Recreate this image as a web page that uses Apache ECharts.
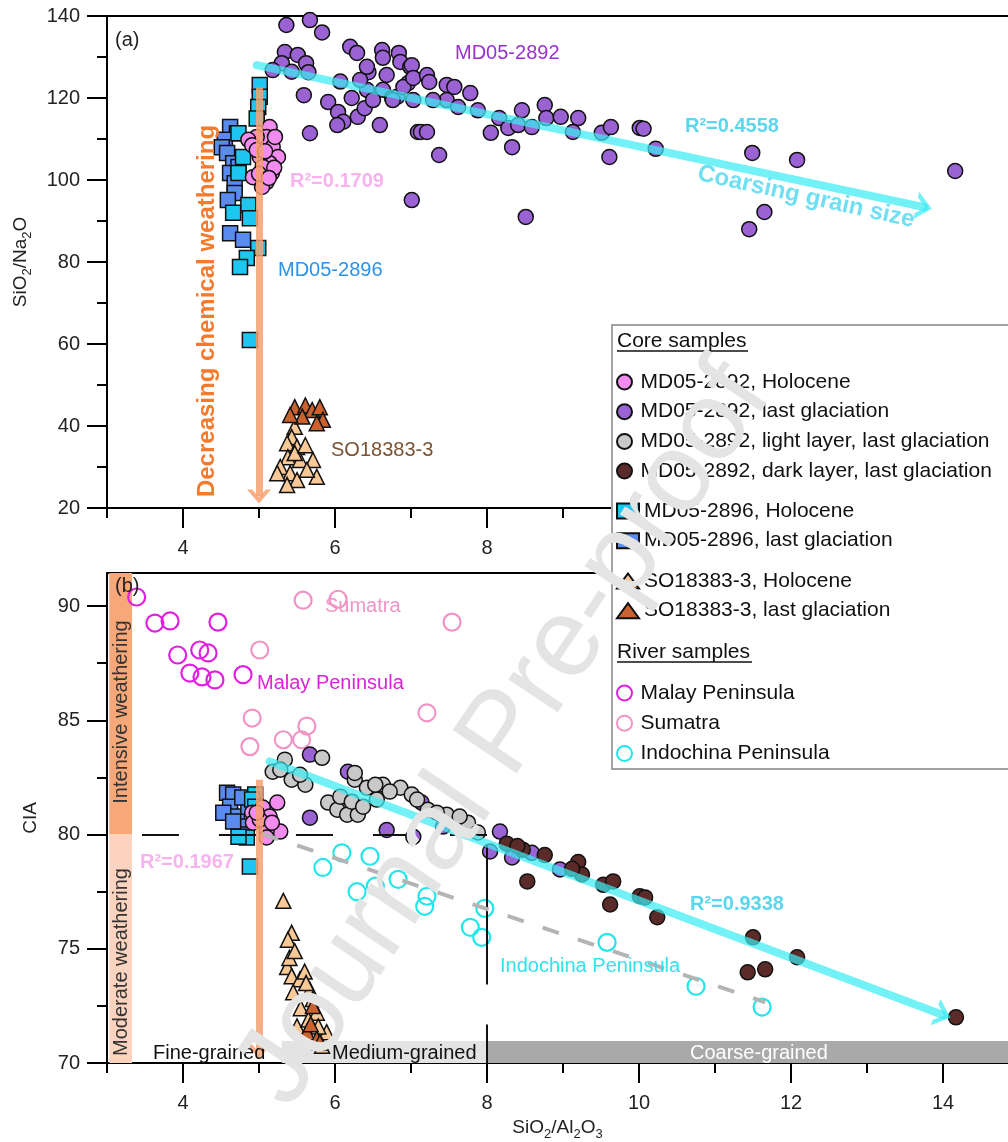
<!DOCTYPE html>
<html>
<head>
<meta charset="utf-8">
<script src="https://cdn.jsdelivr.net/npm/echarts@6/dist/echarts.min.js"></script>
<style>
  html, body { margin: 0; padding: 0; background: #fff; }
  #chart { width: 1008px; height: 1142px; }
</style>
</head>
<body>
<div id="chart"></div>
<script>
// ---- axes / ticks ----
const X_MIN = 3, X_MAX = 14.855;
const xLabels = [4, 6, 8, 10, 12, 14];
const xMinorTicks = [3, 5, 7, 9, 11, 13];
const topYTicks = [20, 40, 60, 80, 100, 120, 140];
const topYMinor = [30, 50, 70, 90, 110, 130];
const botYTicks = [70, 75, 80, 85, 90];
const botYMinor = [72.5, 77.5, 82.5, 87.5];

// ---- panel (a): SiO2/Al2O3 vs SiO2/Na2O ----
const a_md2892Hol = [[5.14,112.9],[5.1,110.5],[4.97,110.5],[4.86,109.8],[4.91,108.5],[5.18,108],[5.25,105.6],[5.14,104.1],[4.92,100.7],[5.1,99.5],[5.04,98.3],[5.17,101.7],[5.01,105.6],[5.21,110.5],[5.05,103.2],[4.97,107.3],[5.2,103],[5.08,107],[5.0,101.5],[5.13,100.5]];
const a_md2892Lg = [[5.36,137.8],[5.67,139],[5.83,136],[5.34,131.2],[5.51,130.5],[5.30,128.5],[5.18,126.8],[5.43,126.4],[5.62,128.5],[5.65,126.3],[6.07,124],[6.20,132.5],[6.29,131],[6.44,126.3],[5.59,120.7],[5.91,119],[6.22,120],[6.04,116.6],[6.11,114.2],[6.03,113.4],[6.30,115.4],[6.39,117.5],[6.42,122],[6.59,113.4],[5.67,111.4],[6.62,131.7],[6.63,129.8],[6.68,125.6],[6.63,122],[6.75,120],[6.84,131],[6.86,128.8],[6.99,127.6],[6.96,123.6],[7.03,119.5],[7.09,111.7],[7.01,95.1],[6.82,120.3],[6.9,122.7],[6.33,124.4],[6.5,119.5],[6.76,119.5],[6.42,127.6],[7.01,128],[7.03,124.9],[7.21,125.6],[7.24,123.9],[7.47,123.2],[7.57,122.7],[7.78,121.2],[7.88,117],[7.47,119.5],[7.62,117.8],[7.29,119.5],[7.13,111.7],[7.21,111.7],[7.37,106.1],[8.16,115.1],[8.05,111.5],[8.28,112.7],[8.46,117],[8.41,113.4],[8.59,112.9],[8.33,108],[8.51,91],[8.76,118.3],[8.78,115.1],[8.97,115.4],[9.2,115.1],[9.13,111.7],[9.51,111.5],[9.63,112.9],[9.61,105.6],[10.01,112.7],[10.06,112.5],[10.22,107.6],[11.49,106.6],[12.08,104.9],[14.16,102.2],[11.65,92.2],[11.45,88]];
const a_md2896Hol = [[5.01,123.2],[5.01,120.3],[4.99,117.8],[4.97,115],[4.73,111.4],[4.79,105.6],[4.73,101.7],[4.66,92],[4.86,93.9],[4.88,90.7],[4.99,83.4],[4.84,81],[4.75,78.8],[4.88,61]];
const a_md2896Lg = [[4.62,112.9],[4.71,111.4],[4.55,109.8],[4.51,108],[4.58,106.6],[4.66,104.1],[4.62,101.7],[4.68,99.2],[4.68,96.8],[4.62,87],[4.79,85.4],[4.73,103.2],[4.59,95.1]];
const a_soHol = [[5.47,39.8],[5.43,37.3],[5.37,35.8],[5.5,34.9],[5.38,32.4],[5.54,31.7],[5.28,30],[5.71,31.7],[5.41,28.5],[5.24,28.5],[5.5,26.8],[5.37,25.6],[5.76,27.6],[5.63,29.3],[5.47,33.4],[5.61,35.3]];
const a_soLg = [[5.47,44.6],[5.61,45],[5.70,43.9],[5.80,44.6],[5.84,41.5],[5.76,40.7],[5.57,42.3],[5.41,42.7]];

// ---- panel (b): SiO2/Al2O3 vs CIA ----
const b_md2892Hol = [[4.91,80.96],[5.05,81.18],[5.14,80.79],[5.18,80.35],[5.28,80.13],[5.1,80.13],[4.92,80.52],[5.24,81.4],[5.01,80.66],[5.17,80.52],[5.1,79.87],[4.97,80.96]];
const b_md2892Lg = [[5.67,83.5],[6.17,82.75],[5.67,80.74],[6.68,80.2],[7.03,79.9],[7.14,81.4],[7.42,80.35],[8.04,79.26],[8.17,80.13],[8.33,79.0],[8.96,78.47],[8.59,79.2]];
const b_md2892Light = [[5.18,82.75],[5.34,83.28],[5.28,82.84],[5.43,82.4],[5.61,82.18],[5.54,82.62],[5.83,83.36],[5.91,81.4],[6.03,81.09],[6.16,80.87],[6.30,80.87],[6.26,82.4],[6.42,82.05],[6.63,82.18],[6.86,82.05],[7.01,81.75],[7.22,81.09],[7.47,80.87],[7.75,80.52],[7.88,80.09],[6.07,81.66],[6.22,81.44],[6.55,81.53],[6.72,81.88],[6.37,81.22],[7.08,81.53],[7.34,80.96],[7.64,80.79],[6.53,82.18],[6.26,82.7]];
const b_md2892Dark = [[8.26,79.6],[8.47,79.34],[8.76,79.1],[9.2,78.8],[9.25,78.25],[9.12,78.5],[8.53,77.95],[9.53,77.8],[9.66,77.95],[9.62,76.94],[10.01,77.3],[10.08,77.25],[10.24,76.38],[11.5,75.5],[12.08,74.63],[11.43,73.97],[11.66,74.1],[14.17,72.0],[8.4,79.5]];
const b_md2896Hol = [[4.95,81.75],[4.91,81.53],[4.84,79.87],[4.73,79.9],[4.88,78.6],[4.95,81.22]];
const b_md2896Lg = [[4.58,81.83],[4.66,81.75],[4.62,81.22],[4.71,80.79],[4.75,80.35],[4.82,80.0],[4.53,80.96],[4.66,80.57],[4.86,81.22],[4.78,81.62]];
const b_soHol = [[5.32,77.1],[5.43,75.7],[5.38,75.4],[5.37,74.2],[5.43,73.8],[5.54,73.67],[5.67,73.2],[5.45,73.1],[5.71,72.8],[5.5,71.6],[5.76,72.2],[5.89,71.35],[5.83,70.75],[5.4,74.6],[5.6,74.0],[5.55,72.4],[5.65,71.9],[5.47,74.9],[5.78,71.6],[5.62,73.5]];
const b_soLg = [[5.63,71.35],[5.76,71.05],[5.71,72.5],[5.68,71.7],[5.8,70.9]];
const b_malay = [[3.39,90.4],[3.63,89.26],[3.83,89.35],[3.93,87.86],[4.22,88.08],[4.33,87.95],[4.46,89.3],[4.09,87.07],[4.25,86.9],[4.42,86.77],[4.79,87.0]];
const b_sumatra = [[5.58,90.26],[6.04,90.3],[7.54,89.3],[5.01,88.08],[4.91,85.1],[4.88,83.85],[5.32,84.15],[5.56,84.15],[5.63,84.75],[7.21,85.33]];
const b_indochina = [[5.84,78.56],[6.09,79.2],[6.46,79.05],[6.29,77.5],[6.53,77.74],[6.83,78.04],[7.21,77.3],[7.18,76.86],[7.97,76.77],[7.78,75.94],[7.93,75.5],[9.58,75.28],[10.75,73.36],[11.62,72.45]];

// ---- trend lines / guides (data coords) ----
const a_trend = [[4.97, 128.0], [13.75, 93.4]];
const a_weathering = [[5.0, 122.5], [5.0, 22.8]];
const b_trend = [[5.14, 83.2], [14.0, 72.1]];
const b_weathering = [[5.0, 82.4], [5.0, 70.5]];
const b_indoTrend = [[5.04, 80.04], [11.66, 72.66]];
const b_cia80 = [[3.46, 80], [8.0, 80]];
const b_x8 = [[8.0, 79.56], [8.0, 70]];

const NAMES = {
  h92: 'MD05-2892, Holocene', g92: 'MD05-2892, last glaciation',
  l92: 'MD05-2892, light layer, last glaciation', d92: 'MD05-2892, dark layer, last glaciation',
  h96: 'MD05-2896, Holocene', g96: 'MD05-2896, last glaciation',
  hSO: 'SO18383-3, Holocene', gSO: 'SO18383-3, last glaciation',
  malay: 'Malay Peninsula', sum: 'Sumatra', indo: 'Indochina Peninsula'
};

const FONT = '"Liberation Sans", Arial, sans-serif';
const chevron = 'path://M0,14 L14,0 L28,14 L22,14 L14,6 L6,14 Z';

function pts(name, data, bottom, symbol, fill, stroke, size, bw) {
  return {
    type: 'scatter', name, data,
    xAxisIndex: bottom ? 3 : 0, yAxisIndex: bottom ? 2 : 0,
    symbol, symbolSize: size,
    itemStyle: { color: fill, borderColor: stroke, borderWidth: bw, opacity: 1 },
    emphasis: { disabled: true }, z: 3
  };
}

function guide(seg, bottom, style, arrow, arrowSize) {
  return {
    type: 'scatter', data: [], silent: true, z: 6,
    xAxisIndex: bottom ? 3 : 0, yAxisIndex: bottom ? 2 : 0,
    markLine: {
      silent: true, animation: false,
      symbol: ['none', arrow || 'none'], symbolSize: arrowSize || 10,
      label: { show: false }, emphasis: { disabled: true },
      lineStyle: style,
      data: [[{ coord: seg[0] }, { coord: seg[1] }]]
    }
  };
}

function xAxes(grid, bottom) {
  const base = { type: 'value', gridIndex: grid, min: X_MIN, max: X_MAX, splitLine: { show: false } };
  const main = Object.assign({}, base, {
    position: 'bottom',
    axisLine: { show: true, onZero: false, lineStyle: { color: '#000', width: 2 } },
    axisTick: { show: true, customValues: xLabels, length: 20, lineStyle: { color: '#000', width: 2 } },
    axisLabel: { customValues: xLabels, color: '#222', fontSize: 20, fontFamily: FONT, margin: 30 }
  });
  if (bottom) {
    Object.assign(main, {
      name: '{n|SiO}{s|2}{n|/Al}{s|2}{n|O}{s|3}', nameLocation: 'middle', nameGap: 52,
      nameTextStyle: { color: '#222', rich: {
        n: { fontSize: 19, fontFamily: FONT, color: '#222', verticalAlign: 'middle' },
        s: { fontSize: 13, fontFamily: FONT, color: '#222', lineHeight: 26, verticalAlign: 'bottom' } } }
    });
  }
  const minor = Object.assign({}, base, {
    position: 'bottom', axisLine: { show: false }, axisLabel: { show: false },
    axisTick: { show: true, customValues: xMinorTicks, length: 10, lineStyle: { color: '#000', width: 2 } }
  });
  const top = Object.assign({}, base, {
    position: 'top', axisLine: { show: true, onZero: false, lineStyle: { color: '#000', width: 2 } },
    axisTick: { show: false }, axisLabel: { show: false }
  });
  return [main, minor, top];
}

function yAxes(grid, min, max, ticks, minor, name, gap) {
  return [{
    type: 'value', gridIndex: grid, min, max, position: 'left',
    splitLine: { show: false },
    axisLine: { show: true, onZero: false, lineStyle: { color: '#000', width: 2 } },
    axisTick: { show: true, customValues: ticks, length: 20, lineStyle: { color: '#000', width: 2 } },
    axisLabel: { customValues: ticks, color: '#222', fontSize: 20, fontFamily: FONT, margin: 27 },
    name, nameLocation: 'middle', nameRotate: 90, nameGap: gap,
    nameTextStyle: { color: '#222', fontSize: 19, fontFamily: FONT, rich: {
      n: { fontSize: 19, fontFamily: FONT, color: '#222', verticalAlign: 'middle' },
      s: { fontSize: 13, fontFamily: FONT, color: '#222', lineHeight: 26, verticalAlign: 'bottom' } } }
  }, {
    type: 'value', gridIndex: grid, min, max, position: 'left',
    splitLine: { show: false }, axisLine: { show: false }, axisLabel: { show: false },
    axisTick: { show: true, customValues: minor, length: 10, lineStyle: { color: '#000', width: 2 } }
  }];
}

function txt(text, x, y, color, size, opt) {
  opt = opt || {};
  return {
    type: 'text', x, y, rotation: opt.rot || 0, z: opt.z || 20, silent: true,
    style: {
      text, fill: color,
      font: (opt.bold ? 'bold ' : '') + size + 'px ' + FONT,
      textAlign: opt.align || 'left', textVerticalAlign: 'middle'
    }
  };
}

const legendBase = {
  orient: 'vertical', padding: 0, itemWidth: 22, itemHeight: 15, itemGap: 8.7,
  selectedMode: false, z: 60,
  textStyle: { fontSize: 21, fontFamily: FONT, color: '#111', lineHeight: 21 }
};

const cyanStyle = { color: '#3cecf2', width: 8, opacity: 0.72, type: 'solid', cap: 'round' };
const orangeStyle = { color: '#f8a070', width: 7, opacity: 0.85, type: 'solid' };

const option = {
  animation: false,
  backgroundColor: '#fff',
  grid: [
    { left: 107, right: 0, top: 16, height: 492 },
    { left: 107, right: 0, top: 573, height: 491 }
  ],
  xAxis: [...xAxes(0, false), ...xAxes(1, true)],
  yAxis: [
    ...yAxes(0, 20, 140, topYTicks, topYMinor, '{n|SiO}{s|2}{n|/Na}{s|2}{n|O}', 73),
    ...yAxes(1, 70, 91.45, botYTicks, botYMinor, 'CIA', 67)
  ],
  legend: [
    Object.assign({}, legendBase, { left: 616, top: 371.5, data: [NAMES.h92, NAMES.g92, NAMES.l92, NAMES.d92] }),
    Object.assign({}, legendBase, { left: 616, top: 500.5, data: [NAMES.h96, NAMES.g96] }),
    Object.assign({}, legendBase, { left: 616, top: 570.5, data: [NAMES.hSO, NAMES.gSO] }),
    Object.assign({}, legendBase, { left: 616, top: 682.5, itemGap: 9.2, data: [NAMES.malay, NAMES.sum, NAMES.indo] })
  ],
  series: [
    // panel (a)
    pts(NAMES.g96, a_md2896Lg, false, 'rect', '#5a8cf0', '#111', 15, 1.5),
    pts(NAMES.h96, a_md2896Hol, false, 'rect', '#1ec6f2', '#111', 15, 1.5),
    pts(NAMES.h92, a_md2892Hol, false, 'circle', '#f48cf0', '#111', 15, 1.5),
    pts(NAMES.g92, a_md2892Lg, false, 'circle', '#9a62d2', '#111', 15, 1.5),
    pts(NAMES.hSO, a_soHol, false, 'triangle', '#f8c896', '#111', 15, 1.5),
    pts(NAMES.gSO, a_soLg, false, 'triangle', '#c8622e', '#111', 15, 1.5),
    guide(a_trend, false, cyanStyle, chevron, [28, 16]),
    guide(a_weathering, false, orangeStyle, chevron, [24, 14]),
    // panel (b) background bands
    {
      type: 'scatter', data: [], silent: true, z: 1, xAxisIndex: 3, yAxisIndex: 2,
      markArea: {
        silent: true, animation: false, label: { show: false },
        data: [
          [{ xAxis: 3.03, yAxis: 80, itemStyle: { color: '#f8a878' } }, { xAxis: 3.33, yAxis: 91.45 }],
          [{ xAxis: 3.03, yAxis: 70, itemStyle: { color: '#fcd3bf' } }, { xAxis: 3.33, yAxis: 80 }],
          [{ xAxis: 5.3, yAxis: 70, itemStyle: { color: '#e3e3e3' } }, { xAxis: 8, yAxis: 70.96 }],
          [{ xAxis: 8, yAxis: 70, itemStyle: { color: '#a9a9a9' } }, { xAxis: X_MAX, yAxis: 70.96 }]
        ]
      }
    },
    guide(b_cia80, true, { color: '#111', width: 2, type: [37, 40], opacity: 1 }),
    guide(b_x8, true, { color: '#111', width: 2, type: [140, 40], opacity: 1 }),
    pts(NAMES.malay, b_malay, true, 'circle', 'rgba(255,255,255,0)', '#e020e0', 17, 2.2),
    pts(NAMES.sum, b_sumatra, true, 'circle', 'rgba(255,255,255,0)', '#f293c6', 17, 2.2),
    pts(NAMES.indo, b_indochina, true, 'circle', 'rgba(255,255,255,0)', '#22e6ea', 17, 2.2),
    pts(NAMES.g92, b_md2892Lg, true, 'circle', '#9a62d2', '#111', 15, 1.5),
    pts(NAMES.l92, b_md2892Light, true, 'circle', '#c9c9c9', '#111', 15, 1.5),
    pts(NAMES.d92, b_md2892Dark, true, 'circle', '#5a2b28', '#111', 15, 1.5),
    pts(NAMES.g96, b_md2896Lg, true, 'rect', '#5a8cf0', '#111', 15, 1.5),
    pts(NAMES.h96, b_md2896Hol, true, 'rect', '#1ec6f2', '#111', 15, 1.5),
    pts(NAMES.h92, b_md2892Hol, true, 'circle', '#f48cf0', '#111', 15, 1.5),
    pts(NAMES.hSO, b_soHol, true, 'triangle', '#f8c896', '#111', 15, 1.5),
    pts(NAMES.gSO, b_soLg, true, 'triangle', '#c8622e', '#111', 15, 1.5),
    guide(b_indoTrend, true, { color: '#b4b4b4', width: 4, type: [17, 20], opacity: 1 }),
    guide(b_trend, true, cyanStyle, chevron, [28, 16]),
    guide(b_weathering, true, orangeStyle, chevron, [24, 14])
  ],
  graphic: [
    // panel (a) annotations
    txt('(a)', 115, 40, '#222', 20),
    txt('MD05-2892', 455, 53, '#9a30d0', 20),
    txt('R²=0.4558', 685, 126, '#5cd6ee', 20, { bold: true }),
    txt('Coarsing grain size', 806, 197, '#6fe0f2', 24, { bold: true, align: 'center', rot: -0.215 }),
    txt('R²=0.1709', 290, 181, '#f7b3ee', 20, { bold: true }),
    txt('MD05-2896', 278, 270, '#2d92ea', 20),
    txt('Decreasing chemical weathering', 207, 311, '#f47a2e', 24, { bold: true, align: 'center', rot: Math.PI / 2 }),
    txt('SO18383-3', 331, 450, '#7a5232', 20),
    // panel (b) annotations
    txt('(b)', 115, 586, '#222', 20),
    txt('Intensive weathering', 121, 712, '#333', 20, { align: 'center', rot: Math.PI / 2 }),
    txt('Moderate weathering', 121, 962, '#333', 20, { align: 'center', rot: Math.PI / 2 }),
    txt('Sumatra', 325, 606, '#f293c8', 20),
    txt('Malay Peninsula', 257, 683, '#e020e0', 20),
    txt('R²=0.1967', 140, 862, '#f7b3ee', 20, { bold: true }),
    txt('R²=0.9338', 690, 904, '#5cd6ee', 20, { bold: true }),
    txt('Indochina Peninsula', 500, 966, '#2ee2ee', 20),
    txt('Fine-grained', 153, 1053, '#111', 20),
    txt('Medium-grained', 332, 1053, '#111', 20),
    txt('Coarse-grained', 690, 1053, '#fff', 20),
    // legend frame and headings
    { type: 'rect', z: 50, silent: true, shape: { x: 612, y: 325, width: 410, height: 444 },
      style: { fill: '#fff', stroke: '#a2a2a2', lineWidth: 2 } },
    txt('Core samples', 617, 341, '#111', 21, { z: 61 }),
    { type: 'line', z: 61, silent: true, shape: { x1: 617, y1: 351, x2: 748, y2: 351 }, style: { stroke: '#111', lineWidth: 1.5 } },
    txt('River samples', 617, 652, '#111', 21, { z: 61 }),
    { type: 'line', z: 61, silent: true, shape: { x1: 617, y1: 662, x2: 752, y2: 662 }, style: { stroke: '#111', lineWidth: 1.5 } },
    // watermark
    txt('Journal Pre-proof', 505, 735, '#e4e4e4', 112, { align: 'center', rot: 56 * Math.PI / 180, z: 100 })
  ]
};

const chart = echarts.init(document.getElementById('chart'), null, { renderer: 'canvas' });
chart.setOption(option);
</script>
</body>
</html>
